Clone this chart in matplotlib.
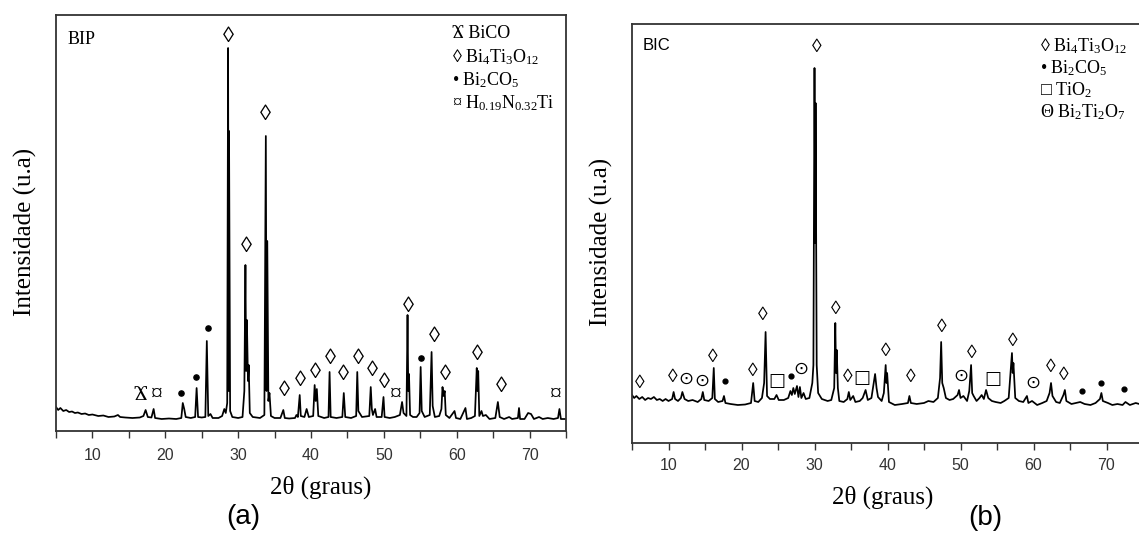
import matplotlib
matplotlib.use("Agg")
import matplotlib.pyplot as plt
from matplotlib.ticker import MultipleLocator

plt.rcParams['mathtext.fontset'] = 'custom'
plt.rcParams['mathtext.rm'] = 'Liberation Serif'
plt.rcParams['mathtext.it'] = 'Liberation Serif:italic'

# ---------------- data: panel (a) BIP ----------------
two_theta_a = [5.0, 5.3, 5.6, 6.0, 6.4, 6.8, 7.2, 7.6, 8.0, 8.5, 9.0, 9.5, 10.0, 10.8, 11.5, 12.2, 13.0, 13.5, 13.8,
               14.5, 15.5, 16.5, 17.0, 17.3, 17.6, 18.1, 18.4, 18.6, 19.5, 20.5, 21.5, 22.2, 22.4, 22.6, 22.8, 23.5,
               24.1, 24.3, 24.5, 25.0, 25.5, 25.7, 25.9, 26.2, 26.5, 27.3, 27.8, 28.1, 28.3, 28.5, 28.62, 28.7, 28.75,
               28.9, 29.2, 30.0, 30.6, 30.85, 31.0, 31.1, 31.2, 31.35, 31.45, 31.6, 32.0, 33.0, 33.6, 33.8, 33.9,
               34.0, 34.15, 34.3, 34.5, 35.0, 35.8, 36.2, 36.4, 37.0, 37.8, 38.0, 38.2, 38.45, 38.6, 39.1, 39.4,
               39.7, 40.3, 40.5, 40.65, 40.8, 41.0, 41.8, 42.4, 42.55, 42.7, 43.5, 44.3, 44.5, 44.7, 45.5, 46.2,
               46.35, 46.5, 47.0, 48.0, 48.2, 48.35, 48.5, 48.8, 49.0, 49.7, 49.95, 50.1, 50.8, 51.5, 52.2, 52.5,
               52.7, 53.1, 53.25, 53.35, 53.45, 53.6, 54.0, 54.5, 54.9, 55.05, 55.2, 55.6, 56.3, 56.55, 56.7, 57.0,
               57.6, 57.9, 58.05, 58.2, 58.35, 58.5, 59.0, 59.7, 59.9, 60.5, 61.2, 61.4, 62.0, 62.5, 62.75, 62.85,
               62.95, 63.1, 63.4, 63.6, 64.0, 64.5, 65.3, 65.65, 65.9, 66.5, 67.2, 67.6, 68.4, 68.55, 68.7, 69.3,
               69.8, 70.2, 70.6, 71.3, 71.8, 72.5, 73.3, 73.9, 74.1, 74.3, 75.0]
intensity_a = [24, 21, 23, 20, 21, 19, 19.5, 18, 18.5, 17, 17.5, 16, 16.5, 15, 15.5, 14, 14.5, 16, 14,
               13.5, 13, 13.5, 15, 21, 14, 13.5, 22, 13, 12, 12.5, 12, 13, 28, 22, 14, 13,
               14, 43, 14, 13.5, 14, 90, 15, 17, 13, 13, 15, 22, 18, 28, 383, 40, 300,
               20, 14, 13, 14, 40, 166, 60, 111, 50, 66, 18, 14, 13, 16, 295, 40,
               190, 30, 38, 15, 13, 13, 21, 13, 12.5, 13, 16, 14, 36, 15, 14, 22,
               14, 15, 46, 30, 42, 15, 13, 14, 59, 14, 13, 14, 38, 14, 13, 15,
               59, 20, 14, 15, 44, 22, 16, 22, 14, 14, 34, 14, 13, 14, 16, 29,
               18, 15, 116, 40, 57, 16, 14, 14, 18, 64, 20, 14, 16, 79, 25, 14,
               15, 22, 44, 35, 40, 16, 13, 20, 13, 12, 23, 12, 13, 15, 63, 40,
               60, 15, 20, 15, 16, 12, 13, 29, 14, 12, 14, 12, 13, 23, 12, 12,
               18, 17, 12, 14, 12, 13, 12, 13, 22, 12, 12]

# phase markers (a): position (2theta), height
bico_a = [(16.5, 36)]
hnti_a = [(18.8, 37), (51.6, 37), (73.6, 37)]
bi2co5_a = [(22.2, 38), (24.2, 54), (25.9, 103), (55.1, 73)]
bit_a = [(28.6, 394), (31.2, 183), (33.8, 316), (36.4, 39), (38.6, 50), (40.6, 58), (42.6, 72), (44.4, 55),
         (46.5, 72), (48.4, 59), (50.1, 47), (53.4, 124), (56.9, 93), (58.4, 55), (62.8, 76), (66.1, 44)]

# ---------------- data: panel (b) BIC ----------------
two_theta_b = [5.0, 5.3, 5.6, 6.0, 6.4, 6.8, 7.2, 7.6, 8.0, 8.4, 8.8, 9.2, 9.6, 10.0, 10.5, 10.7, 10.9, 11.3, 11.7,
               11.9, 12.2, 12.7, 13.3, 14.0, 14.5, 14.7, 14.9, 15.5, 16.0, 16.2, 16.35, 16.8, 17.4, 17.6, 17.8,
               18.5, 19.5, 20.5, 21.3, 21.6, 21.8, 22.3, 22.8, 23.1, 23.3, 23.5, 23.9, 24.5, 24.8, 25.1, 25.8,
               26.4, 26.7, 26.9, 27.1, 27.3, 27.6, 27.8, 28.0, 28.2, 28.5, 28.8, 29.3, 29.7, 29.85, 30.0, 30.1,
               30.15, 30.3, 30.5, 31.0, 31.8, 32.3, 32.7, 32.85, 32.95, 33.05, 33.2, 33.4, 34.0, 34.5, 34.7, 34.9,
               35.3, 35.6, 36.2, 36.6, 37.0, 37.3, 37.8, 38.3, 38.5, 38.7, 39.2, 39.5, 39.75, 39.85, 39.95, 40.2,
               41.0, 42.0, 42.8, 43.0, 43.2, 44.0, 45.0, 45.6, 46.3, 46.9, 47.2, 47.35, 47.5, 47.7, 48.0, 48.5,
               49.0, 49.6, 49.8, 50.0, 50.4, 50.9, 51.2, 51.45, 51.6, 51.8, 52.2, 52.6, 52.9, 53.2, 53.5, 53.8,
               54.3, 54.8, 55.5, 56.0, 56.6, 56.9, 57.05, 57.15, 57.25, 57.5, 58.0, 58.6, 59.1, 59.3, 59.8, 60.5,
               61.2, 61.8, 62.2, 62.4, 62.6, 63.1, 63.6, 64.1, 64.3, 64.5, 65.2, 65.8, 66.4, 67.0, 67.8, 68.5,
               69.1, 69.3, 69.5, 70.2, 70.8, 71.5, 72.2, 72.6, 73.2, 74.0, 74.5, 75.0]
intensity_b = [48, 45, 47, 44, 46, 43, 45, 44, 46, 43, 44, 42, 44, 42, 44, 51, 44, 42, 45,
               51, 44, 42, 43, 41, 44, 51, 43, 42, 45, 75, 44, 41, 42, 47, 40,
               39, 38, 38.5, 40, 60, 42, 41, 45, 60, 111, 47, 44, 44, 48, 43, 43,
               45, 52, 48, 55, 49, 57, 46, 56, 45, 50, 44, 45, 60, 78, 375, 200,
               340, 78, 50, 44, 42, 43, 55, 120, 70, 93, 55, 42, 41, 44, 51, 43,
               47, 41, 42, 45, 53, 43, 45, 69, 55, 46, 42, 50, 78, 60, 70, 41,
               38, 39, 40, 47, 40, 39, 40, 42, 41, 45, 65, 101, 60, 55, 45, 43,
               44, 48, 53, 45, 47, 42, 52, 78, 50, 47, 42, 45, 48, 44, 53, 45,
               42, 41, 40, 42, 45, 75, 90, 70, 80, 45, 42, 41, 47, 40, 42, 38,
               40, 42, 50, 60, 47, 41, 40, 48, 53, 42, 39, 40, 41, 39, 38, 40,
               44, 50, 42, 40, 38, 39, 38, 41, 38, 40, 39, 40]

bit_b = [(6.0, 60), (10.6, 66), (16.1, 85), (21.5, 71), (22.9, 128), (30.3, 395), (32.9, 134), (34.5, 66),
         (39.8, 92), (43.2, 65), (47.4, 115), (51.5, 90), (57.2, 101), (62.4, 76), (64.2, 68)]
bi2ti2o7_b = [(12.4, 64), (14.6, 62), (28.2, 74), (50.0, 67), (59.9, 60)]
bi2co5_b = [(17.8, 62), (26.8, 67), (66.6, 52), (69.3, 60), (72.4, 54)]
tio2_b = [(24.9, 62), (36.5, 65), (54.5, 64)]

x_ticks = [10, 20, 30, 40, 50, 60, 70]

# ---------------- figure ----------------
W, H = 1139, 534
fig = plt.figure(figsize=(W / 100, H / 100), dpi=100)


def fx(px):
    return px / W


def fy(py):
    return 1 - py / H


SERIF = ['Liberation Serif', 'DejaVu Serif', 'DejaVu Sans']
SANS = ['Liberation Sans', 'DejaVu Sans']

ax_a = fig.add_axes([fx(56), fy(431), fx(566) - fx(56), fy(15) - fy(431)])
ax_b = fig.add_axes([fx(632), fy(443), fx(1143) - fx(632), fy(24) - fy(443)])


def style_axis(ax, ymax, pad):
    ax.set_xlim(5, 75)
    ax.set_ylim(0, ymax)
    ax.set_yticks([])
    ax.set_xticks(x_ticks)
    ax.xaxis.set_minor_locator(MultipleLocator(5))
    ax.tick_params(axis='x', which='both', direction='out', length=5, width=1.0, color='#333333',
                   labelsize=11.5, labelcolor='#333333', pad=pad)
    for lab in ax.get_xticklabels():
        lab.set_family(SANS)
    for s in ax.spines.values():
        s.set_linewidth(1.3)
        s.set_color('#333333')


style_axis(ax_a, 416, 7)
style_axis(ax_b, 419, 6)

ax_a.plot(two_theta_a, intensity_a, color='black', lw=1.25)
ax_b.plot(two_theta_b, intensity_b, color='black', lw=1.25)

# markers (a)
for x, y in bit_a:
    ax_a.text(x, y, '\u25CA', ha='center', va='center', fontsize=16, family=SERIF)
for x, y in bico_a:
    ax_a.text(x, y, '\u03EA', ha='center', va='center', fontsize=15, family=SERIF)
for x, y in hnti_a:
    ax_a.text(x, y, '\u00A4', ha='center', va='center', fontsize=17, family=SERIF)
ax_a.scatter([p[0] for p in bi2co5_a], [p[1] for p in bi2co5_a], s=14, color='black', zorder=3)

# markers (b)
for x, y in bit_b:
    ax_b.text(x, y, '\u25CA', ha='center', va='center', fontsize=14, family=SERIF)
for x, y in bi2ti2o7_b:
    ax_b.text(x, y, '\u2299', ha='center', va='center', fontsize=13, family=['DejaVu Sans'])
for x, y in tio2_b:
    ax_b.text(x, y, '\u25A1', ha='center', va='center', fontsize=13, family=['DejaVu Sans'])
ax_b.scatter([p[0] for p in bi2co5_b], [p[1] for p in bi2co5_b], s=12, color='black', zorder=3)

# sample names
fig.text(fx(68), fy(40), 'BIP', ha='left', va='center', fontsize=13, family=SERIF)
fig.text(fx(643), fy(46), 'BIC', ha='left', va='center', fontsize=12, family=SANS)

# legends
leg_a = ['\u03EA BiCO', '\u25CA $\\mathregular{Bi_4Ti_3O_{12}}$', '\u2022 $\\mathregular{Bi_2CO_5}$',
         '\u00A4 $\\mathregular{H_{0.19}N_{0.32}Ti}$']
for i, t in enumerate(leg_a):
    fig.text(fx(452), fy(34 + 23 * i), t, ha='left', va='center', fontsize=13, family=SERIF)
leg_b = ['\u25CA $\\mathregular{Bi_4Ti_3O_{12}}$', '\u2022 $\\mathregular{Bi_2CO_5}$',
         '\u25A1 $\\mathregular{TiO_2}$', '\u0398 $\\mathregular{Bi_2Ti_2O_7}$']
for i, t in enumerate(leg_b):
    fig.text(fx(1040), fy(46 + 22 * i), t, ha='left', va='center', fontsize=13, family=SERIF)

# axis titles
fig.text(fx(321), fy(487), '2\u03B8 (graus)', ha='center', va='center', fontsize=18, family=SERIF)
fig.text(fx(883), fy(497), '2\u03B8 (graus)', ha='center', va='center', fontsize=18, family=SERIF)
fig.text(fx(25), fy(232), 'Intensidade (u.a)', ha='center', va='center', rotation=90, fontsize=18, family=SERIF)
fig.text(fx(601), fy(242), 'Intensidade (u.a)', ha='center', va='center', rotation=90, fontsize=18, family=SERIF)

# panel letters
fig.text(fx(243), fy(517), '(a)', ha='center', va='center', fontsize=20, family=SANS)
fig.text(fx(985), fy(518), '(b)', ha='center', va='center', fontsize=20, family=SANS)

fig.savefig('out.png', dpi=100)
